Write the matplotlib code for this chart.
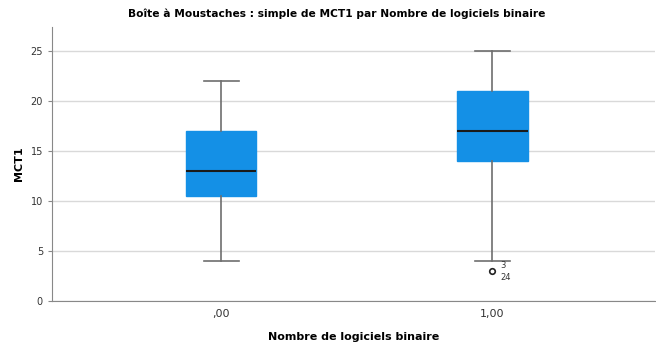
import matplotlib.pyplot as plt

groups = [",00", "1,00"]
q1 = [10.5, 14]
med = [13, 17]
q3 = [17, 21]
whislo = [4, 4]
whishi = [22, 25]
fliers = [[], [3]]
flier_ids = [[], ["3", "24"]]

fig = plt.figure(figsize=(6.56, 3.43), dpi=100)
ax = fig.add_axes([52 / 656, 1 - 301 / 343, 603 / 656, 274 / 343])

stats = []
for i in range(len(groups)):
    stats.append(dict(q1=q1[i], med=med[i], q3=q3[i], whislo=whislo[i],
                      whishi=whishi[i], fliers=fliers[i], label=groups[i]))

ax.bxp(stats, positions=[1, 2], widths=0.26, patch_artist=True,
       boxprops=dict(facecolor="#1490E6", edgecolor="#1490E6", linewidth=1),
       medianprops=dict(color="#1a1a1a", linewidth=1.5),
       whiskerprops=dict(color="#6e6e6e", linewidth=1.2),
       capprops=dict(color="#6e6e6e", linewidth=1.2),
       capwidths=0.13,
       flierprops=dict(marker="o", markersize=4, markerfacecolor="white",
                       markeredgecolor="#222222", markeredgewidth=1.2),
       zorder=3)

# case numbers next to the outlier
for i in range(len(groups)):
    for v in fliers[i]:
        ax.text(i + 1 + 0.03, v + 0.6, flier_ids[i][0], fontsize=6, color="#333333",
                ha="left", va="center")
        ax.text(i + 1 + 0.03, v - 0.7, flier_ids[i][1], fontsize=6, color="#333333",
                ha="left", va="center")

ax.set_xlim(0.376, 2.6)
ax.set_ylim(0, 27.4)
ax.set_yticks([0, 5, 10, 15, 20, 25])
ax.yaxis.grid(True, color="#d9d9d9", linewidth=1)
ax.set_axisbelow(True)
for s in ["top", "right"]:
    ax.spines[s].set_visible(False)
for s in ["left", "bottom"]:
    ax.spines[s].set_color("#888888")
ax.tick_params(axis="both", labelsize=7, colors="#333333", length=3, color="#888888")
ax.tick_params(axis="x", length=0, pad=6, labelsize=8)

ax.set_ylabel("MCT1", fontsize=8, fontweight="bold", labelpad=5)
ax.set_xlabel("Nombre de logiciels binaire", fontsize=8, fontweight="bold", labelpad=9)
fig.text(0.513, 1 - 14 / 343, "Boîte à Moustaches : simple de MCT1 par Nombre de logiciels binaire",
         ha="center", va="center", fontsize=7.7, fontweight="bold")

fig.savefig("out.png", dpi=100)
